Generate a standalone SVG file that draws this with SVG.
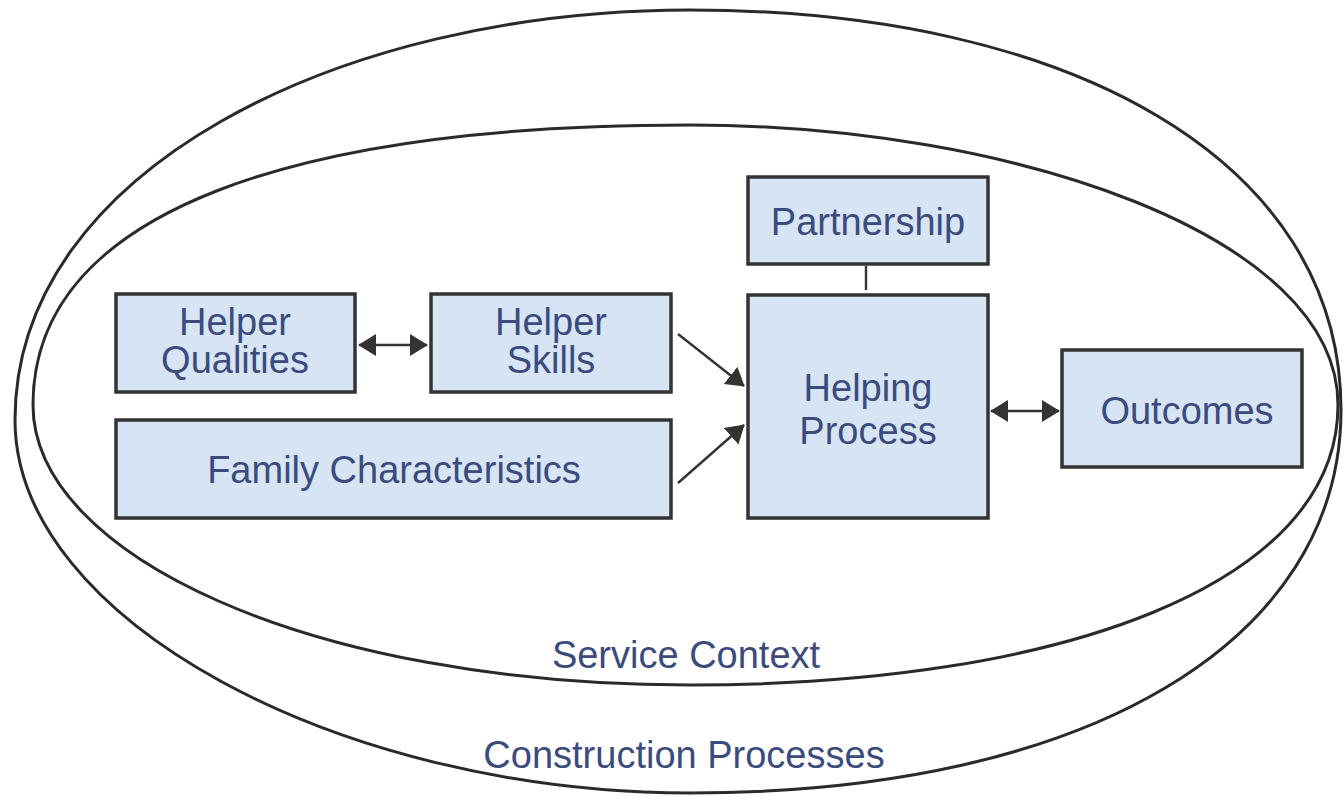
<svg xmlns="http://www.w3.org/2000/svg" width="1344" height="798" viewBox="0 0 1344 798">
<style>
.box{fill:#d7e4f4;stroke:#333;stroke-width:3.5}
.t{font-family:"Liberation Sans",Arial,sans-serif;font-size:38px;fill:#3b4b7d;text-anchor:middle}
.ring{fill:none;stroke:#2a2a2a;stroke-width:3}
.c{stroke:#333;stroke-width:2.4;fill:none}
</style>
<defs>
<marker id="ah" viewBox="0 0 10 10" refX="9.5" refY="5" markerWidth="18" markerHeight="22" markerUnits="userSpaceOnUse" orient="auto-start-reverse" preserveAspectRatio="none">
<path d="M0 0 L10 5 L0 10 Z" fill="#333"/>
</marker>
</defs>
<rect width="1344" height="798" fill="#fff"/>
<g id="construction-processes">
<path class="ring" d="M 690 10 C 340 10, 15 170, 15 420 C 15 620, 340 793, 690 793 C 1090 793, 1341 640, 1341 410 C 1341 160, 1070 10, 690 10 Z"/>
<text class="t" x="684" y="768">Construction Processes</text>
</g>
<g id="service-context">
<path class="ring" d="M 690 125 C 310 125, 33 205, 33 405 C 33 555, 310 685, 690 685 C 1060 685, 1338 585, 1338 405 C 1338 235, 1010 125, 690 125 Z"/>
<text class="t" x="686" y="668">Service Context</text>
</g>
<g id="helper-qualities">
<rect class="box" x="116" y="294" width="239" height="98"/>
<text class="t" x="235" y="335">Helper</text>
<text class="t" x="235" y="373">Qualities</text>
</g>
<g id="helper-skills">
<rect class="box" x="431" y="294" width="240" height="98"/>
<text class="t" x="551" y="335">Helper</text>
<text class="t" x="551" y="373">Skills</text>
</g>
<g id="family-characteristics">
<rect class="box" x="116" y="420" width="555" height="98"/>
<text class="t" x="394" y="483">Family Characteristics</text>
</g>
<g id="partnership">
<rect class="box" x="748" y="177" width="240" height="87"/>
<text class="t" x="868" y="235">Partnership</text>
</g>
<g id="helping-process">
<rect class="box" x="748" y="295" width="240" height="223"/>
<text class="t" x="868" y="401">Helping</text>
<text class="t" x="868" y="444">Process</text>
</g>
<g id="outcomes">
<rect class="box" x="1062" y="350" width="240" height="117"/>
<text class="t" x="1187" y="424">Outcomes</text>
</g>
<g id="connectors">
<line class="c" x1="359" y1="345" x2="427" y2="345" marker-start="url(#ah)" marker-end="url(#ah)"/>
<line class="c" x1="991" y1="411" x2="1059" y2="411" marker-start="url(#ah)" marker-end="url(#ah)"/>
<line class="c" x1="678" y1="334" x2="744" y2="386" marker-end="url(#ah)"/>
<line class="c" x1="678" y1="483" x2="744" y2="425" marker-end="url(#ah)"/>
<line class="c" x1="866" y1="266" x2="866" y2="290"/>
</g>
</svg>
